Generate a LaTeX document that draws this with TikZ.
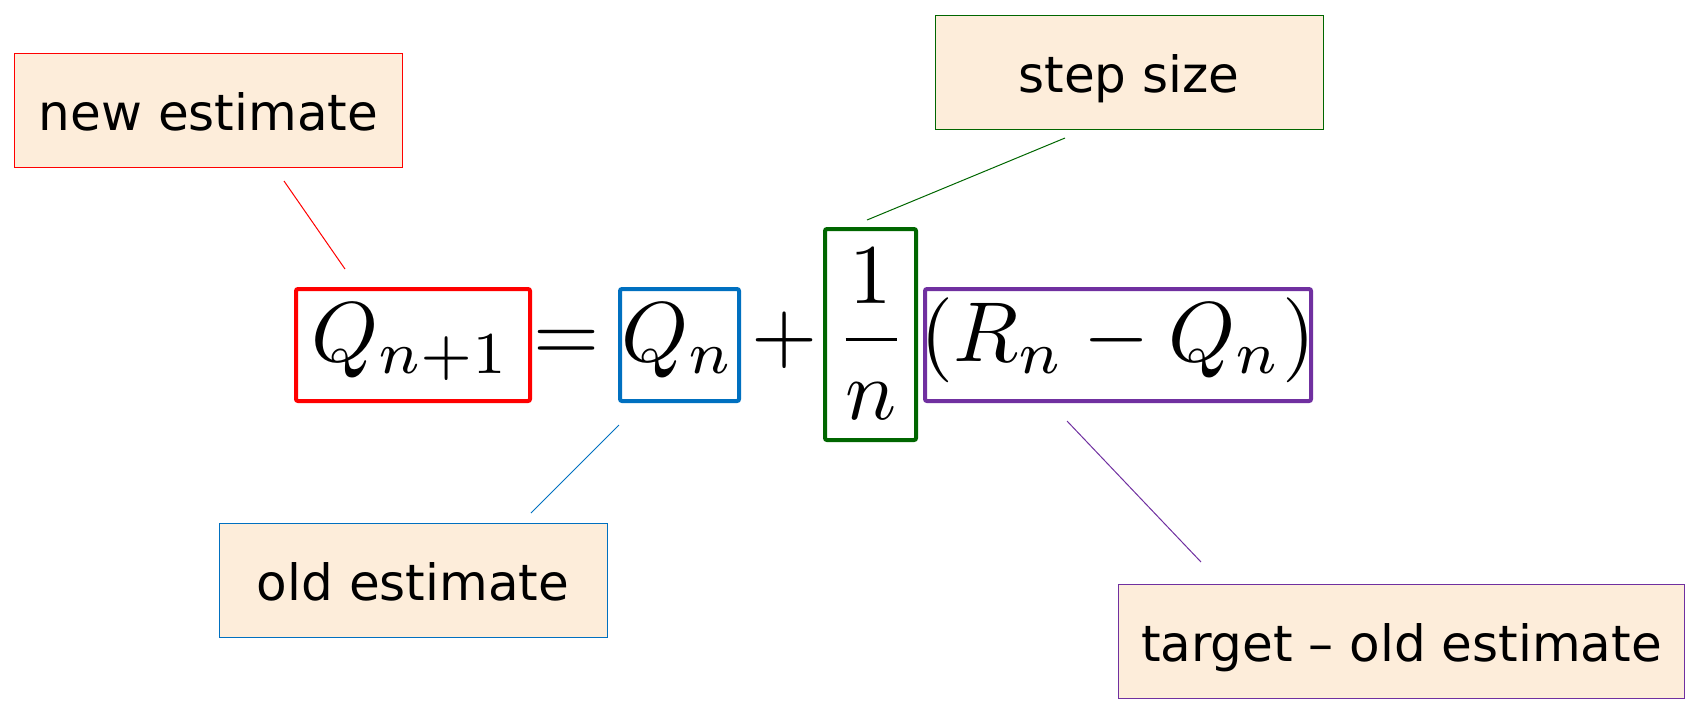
\documentclass[tikz,border=0pt]{standalone}
\usepackage{graphicx}
\usepackage{fontspec}
\newfontfamily\lblfont{DejaVu Sans}

\definecolor{lblfill}{RGB}{253,237,218}
\definecolor{boxred}{RGB}{255,0,0}
\definecolor{boxblue}{RGB}{0,112,192}
\definecolor{boxgreen}{RGB}{0,102,0}
\definecolor{boxpurple}{RGB}{112,48,160}

% 放大的公式
\newcommand{\eqbig}[1]{\scalebox{4.25}{$#1$}}

\tikzset{
  lbl/.style={draw, line width=0.5pt, fill=lblfill, inner sep=0pt,
    minimum width=194pt, minimum height=57pt, text height=20pt, text depth=0pt,
    font=\lblfont\fontsize{25}{30}\selectfont},
  eqbox/.style={draw, line width=2pt, rounded corners=1pt, inner sep=0pt, minimum height=56pt},
  eq/.style={anchor=base, inner sep=0pt},
  lead/.style={line width=0.5pt},
}

\begin{document}
\begin{tikzpicture}[x=0.5pt, y=-0.5pt]
    \useasboundingbox (0,0) rectangle (1700,714);

    % 标注框
    \node[lbl, draw=boxred] (newlbl) at (208.5,110) {new estimate};
    \node[lbl, draw=boxgreen] (steplbl) at (1129,72) {step size};
    \node[lbl, draw=boxblue] (oldlbl) at (413,580.5) {old estimate};
    \node[lbl, draw=boxpurple, minimum width=283pt] (tgtlbl) at (1401.5,641.5) {target – old estimate};

    % 公式
    \node[eq] (lhs) at (411,361) {\eqbig{Q_{n+1}}};
    \node[eq] (eqsign) at (566.5,361) {\eqbig{=}};
    \node[eq] (oldq) at (678,361) {\eqbig{Q_n}};
    \node[eq] (plus) at (784.5,361) {\eqbig{+}};
    \node[eq] (frac) at (871,361) {\eqbig{\displaystyle\frac{1}{n}}};
    \node[eq] (diff) at (1118,361) {\eqbig{(R_n - Q_n)}};

    % 彩色框
    \node[eqbox, draw=boxred, minimum width=117pt] (redbox) at (413,345) {};
    \node[eqbox, draw=boxblue, minimum width=59.5pt] (bluebox) at (679.5,345) {};
    \node[eqbox, draw=boxgreen, minimum width=45.5pt, minimum height=105.5pt] (greenbox) at (870.5,334.5) {};
    \node[eqbox, draw=boxpurple, minimum width=193pt] (purplebox) at (1118,345) {};

    % 引线
    \coordinate (newA) at (284,181);
    \coordinate (newB) at (345,269);
    \coordinate (stepA) at (1065,138);
    \coordinate (stepB) at (867,220);
    \coordinate (oldA) at (619,425);
    \coordinate (oldB) at (531,513);
    \coordinate (tgtA) at (1067,421);
    \coordinate (tgtB) at (1201,562);
    \draw[lead, boxred] (newA) -- (newB);
    \draw[lead, boxgreen] (stepA) -- (stepB);
    \draw[lead, boxblue] (oldA) -- (oldB);
    \draw[lead, boxpurple] (tgtA) -- (tgtB);
\end{tikzpicture}
\end{document}
